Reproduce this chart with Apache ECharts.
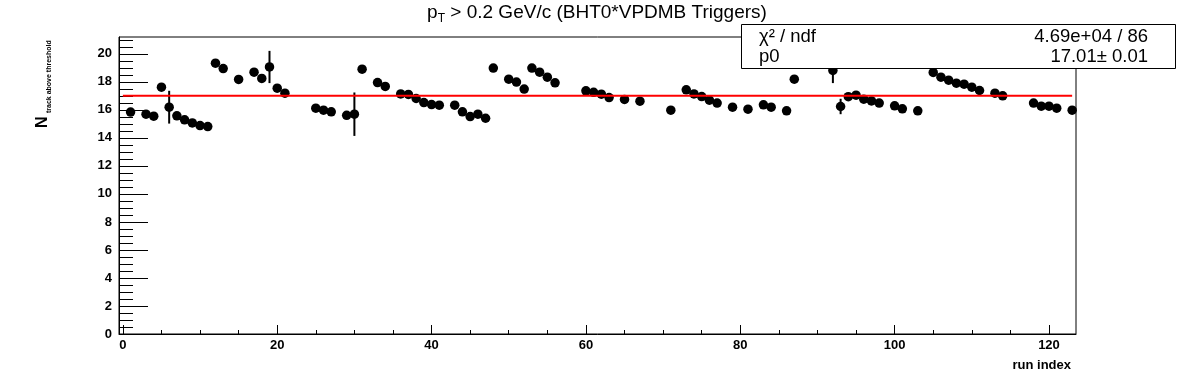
<!DOCTYPE html>
<html><head><meta charset="utf-8">
<script src="https://cdn.jsdelivr.net/npm/echarts@6/dist/echarts.min.js"></script>
<style>html,body{margin:0;padding:0;background:#fff}#c{width:1196px;height:372px}</style>
</head><body><div id="c"></div>
<script>
const runIndex = [1,3,4,5,6,7,8,9,10,11,12,13,15,17,18,19,20,21,25,26,27,29,30,31,33,34,36,37,38,39,40,41,43,44,45,46,47,48,50,51,52,53,54,55,56,60,61,62,63,65,67,71,73,74,75,76,77,79,81,83,84,86,87,92,93,94,95,96,97,98,100,101,103,105,106,107,108,109,110,111,113,114,118,119,120,121,123];
const nTrack = [15.84,15.69,15.55,17.62,16.19,15.57,15.29,15.07,14.88,14.81,19.33,18.95,18.17,18.69,18.24,19.06,17.55,17.19,16.12,15.98,15.86,15.61,15.69,18.90,17.95,17.67,17.14,17.10,16.81,16.52,16.38,16.33,16.33,15.86,15.52,15.69,15.40,18.98,18.19,17.98,17.48,18.98,18.69,18.33,17.93,17.36,17.25,17.12,16.88,16.74,16.62,15.98,17.43,17.14,16.95,16.69,16.48,16.19,16.05,16.36,16.19,15.93,18.19,18.81,16.24,16.94,17.05,16.76,16.64,16.48,16.29,16.07,15.93,18.67,18.33,18.12,17.90,17.83,17.62,17.38,17.19,17.00,16.48,16.26,16.26,16.12,15.98];
const errRuns = [6,19,30,92,93];
const errSizes = [1.17,1.15,1.55,0.90,0.55];
const fitP0 = 17.01;
const fitRange = [0,123];
const xMajorTicks = [0,20,40,60,80,100,120];
const xMinorTicks = [5,10,15,25,30,35,45,50,55,65,70,75,85,90,95,105,110,115];
const yMinorTicks = [0.5,1,1.5,2.5,3,3.5,4.5,5,5.5,6.5,7,7.5,8.5,9,9.5,10.5,11,11.5,12.5,13,13.5,14.5,15,15.5,16.5,17,17.5,18.5,19,19.5,20.5,21];
const titleText = '{a|p}{s|T}{a| > 0.2 GeV/c (BHT0*VPDMB Triggers)}';
const xTitle = 'run index';
const yTitleMain = 'N';
const yTitleSub = 'track above threshold';
const statsRows = [['χ² / ndf','4.69e+04 / 86'],['p0','17.01± 0.01']];

const FONT = 'Liberation Sans, Arial, Helvetica, sans-serif';
const points = runIndex.map((r,i)=>[r,nTrack[i]]);
const errData = errRuns.map((r,i)=>{const v=nTrack[runIndex.indexOf(r)];return [r,v-errSizes[i],v+errSizes[i]];});

const chart = echarts.init(document.getElementById('c'), null, {renderer:'canvas'});
const labelStyle = {color:'#000', fontFamily:FONT, fontWeight:'bold', fontSize:13};
const statFont = '18.5px '+FONT;
chart.setOption({
  animation:false,
  backgroundColor:'#fff',
  grid:{left:119, right:120, top:37, bottom:38, show:true, borderColor:'#000', borderWidth:1, backgroundColor:'transparent'},
  xAxis:[
    {type:'value', min:-0.5, max:123.5, position:'bottom',
     axisLine:{show:true, onZero:false, lineStyle:{color:'#000', width:1}},
     axisTick:{show:true, inside:true, length:9, customValues:xMajorTicks, lineStyle:{color:'#000'}},
     axisLabel:{show:true, customValues:xMajorTicks, margin:5, ...labelStyle},
     splitLine:{show:false}},
    {type:'value', min:-0.5, max:123.5, position:'bottom', offset:0,
     axisLine:{show:false, onZero:false},
     axisTick:{show:true, inside:true, length:4, customValues:xMinorTicks, lineStyle:{color:'#000'}},
     axisLabel:{show:false}, splitLine:{show:false}}
  ],
  yAxis:[
    {type:'value', min:0, max:21.2, interval:2, position:'left',
     axisLine:{show:true, onZero:false, lineStyle:{color:'#000', width:1}},
     axisTick:{show:true, inside:true, length:29, lineStyle:{color:'#000'}},
     axisLabel:{show:true, margin:7, ...labelStyle, showMaxLabel:false},
     splitLine:{show:false}},
    {type:'value', min:0, max:21.2, position:'left', offset:0,
     axisLine:{show:false, onZero:false},
     axisTick:{show:true, inside:true, length:14, customValues:yMinorTicks, lineStyle:{color:'#000'}},
     axisLabel:{show:false}, splitLine:{show:false}}
  ],
  series:[
    {type:'custom', xAxisIndex:0, yAxisIndex:0, z:3, data:errData,
     renderItem:(params, api)=>{
       const x=api.value(0), lo=api.value(1), hi=api.value(2);
       const p1=api.coord([x,lo]), p2=api.coord([x,hi]);
       return {type:'line', shape:{x1:p1[0],y1:p1[1],x2:p2[0],y2:p2[1]}, style:{stroke:'#000', lineWidth:2}};
     }},
    {type:'scatter', xAxisIndex:0, yAxisIndex:0, z:4, data:points, symbol:'circle', symbolSize:9.5,
     itemStyle:{color:'#000', opacity:1}, emphasis:{disabled:true}},
    {type:'line', xAxisIndex:0, yAxisIndex:0, z:5, data:[[fitRange[0],fitP0],[fitRange[1],fitP0]],
     symbol:'none', lineStyle:{color:'#ff0000', width:2}, emphasis:{disabled:true}}
  ],
  graphic:[
    {type:'text', x:597, y:13, z:100, style:{text:titleText, align:'center', verticalAlign:'middle', textAlign:'center', textVerticalAlign:'middle',
      rich:{a:{fontSize:19, fontFamily:FONT, fill:'#000', lineHeight:23, verticalAlign:'middle'},
            s:{fontSize:12, fontFamily:FONT, fill:'#000', lineHeight:12, verticalAlign:'bottom'}}}},
    {type:'text', x:1071, y:365, z:100, style:{text:xTitle, font:'bold 13px '+FONT, fill:'#000', align:'right', verticalAlign:'middle', textAlign:'right', textVerticalAlign:'middle'}},
    {type:'text', x:43, y:128, rotation:Math.PI/2, z:100, style:{text:yTitleMain, font:'bold 16px '+FONT, fill:'#000', align:'left', verticalAlign:'middle', textAlign:'left', textVerticalAlign:'middle'}},
    {type:'text', x:49, y:113, rotation:Math.PI/2, z:100, style:{text:yTitleSub, font:'bold 7px '+FONT, fill:'#000', align:'left', verticalAlign:'middle', textAlign:'left', textVerticalAlign:'middle'}},
    {type:'rect', z:100, shape:{x:741.5, y:24.5, width:434, height:44}, style:{fill:'#fff', stroke:'#000', lineWidth:1}},
    {type:'text', x:759, y:37, z:101, style:{text:statsRows[0][0], font:statFont, fill:'#000', align:'left', verticalAlign:'middle', textAlign:'left', textVerticalAlign:'middle'}},
    {type:'text', x:1148, y:37, z:101, style:{text:statsRows[0][1], font:statFont, fill:'#000', align:'right', verticalAlign:'middle', textAlign:'right', textVerticalAlign:'middle'}},
    {type:'text', x:759, y:57, z:101, style:{text:statsRows[1][0], font:statFont, fill:'#000', align:'left', verticalAlign:'middle', textAlign:'left', textVerticalAlign:'middle'}},
    {type:'text', x:1148, y:57, z:101, style:{text:statsRows[1][1], font:statFont, fill:'#000', align:'right', verticalAlign:'middle', textAlign:'right', textVerticalAlign:'middle'}}
  ]
});
</script></body></html>
